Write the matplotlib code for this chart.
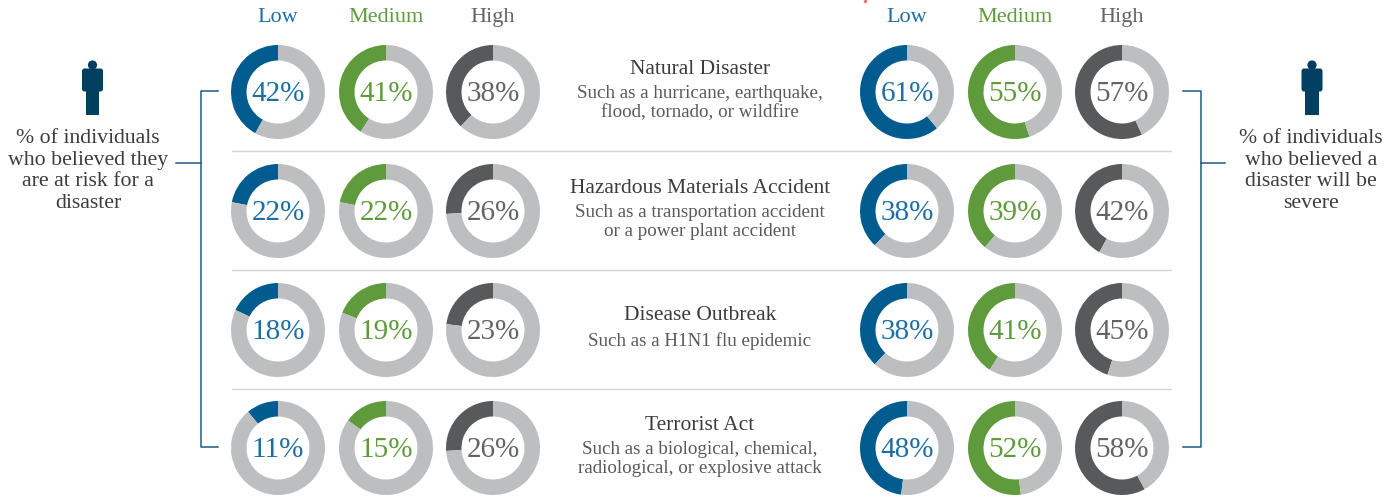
import matplotlib
matplotlib.use("Agg")
import matplotlib.pyplot as plt
from matplotlib.patches import Circle, FancyBboxPatch, Rectangle

# values, rows top to bottom
levels = ["Low", "Medium", "High"]
risk_low = [42, 22, 18, 11]
risk_medium = [41, 22, 19, 15]
risk_high = [38, 26, 23, 26]
severe_low = [61, 38, 38, 48]
severe_medium = [55, 39, 41, 52]
severe_high = [57, 42, 45, 58]

titles = ["Natural Disaster", "Hazardous Materials Accident", "Disease Outbreak", "Terrorist Act"]
details = ["Such as a hurricane, earthquake,\nflood, tornado, or wildfire",
           "Such as a transportation accident\nor a power plant accident",
           "Such as a H1N1 flu epidemic",
           "Such as a biological, chemical,\nradiological, or explosive attack"]
left_note = "% of individuals\nwho believed they\nare at risk for a\ndisaster"
right_note = "% of individuals\nwho believed a\ndisaster will be\nsevere"

colors = ["#005b8f", "#5f9b3c", "#58595b"]
text_colors = ["#1f6ea3", "#5f9b3c", "#636466"]
rest = "#bcbec0"
line = "#1f5a80"
navy = "#003f5f"
dark = "#3c3c3e"

W, H = 1398, 498
left_x = [278, 386, 493]
right_x = [907, 1015, 1122]
row_y = [92, 211, 330, 448]
R, r = 47, 31.5

plt.rcParams['font.family'] = ['Liberation Serif', 'DejaVu Serif']
fig = plt.figure(figsize=(W / 100, H / 100), dpi=100)
ax = fig.add_axes([0, 0, 1, 1])


def Y(py):
    return H - py


def donut(cx, cy, val, col, tcol):
    ax.pie([val, 100 - val], colors=[col, rest], center=(cx, Y(cy)), radius=R,
           startangle=90, counterclock=True, frame=True,
           wedgeprops=dict(width=R - r, linewidth=0))
    ax.text(cx, Y(cy) - 2, "%d%%" % val, color=tcol, fontsize=21,
            ha="center", va="center", fontweight="light")


def person(cx, top):
    ax.add_patch(Circle((cx, Y(top + 4.5)), 4.6, color=navy, lw=0))
    ax.add_patch(FancyBboxPatch((cx - 10.5, Y(top + 31)), 21, 23,
                                boxstyle="round,pad=0,rounding_size=2.5", color=navy, lw=0))
    ax.add_patch(Rectangle((cx - 6.8, Y(top + 54)), 13.6, 28, color=navy, lw=0))


risk = [risk_low, risk_medium, risk_high]
severe = [severe_low, severe_medium, severe_high]
for c in range(3):
    ax.text(left_x[c], Y(17), levels[c], color=text_colors[c], fontsize=16, ha="center", va="center")
    ax.text(right_x[c], Y(17), levels[c], color=text_colors[c], fontsize=16, ha="center", va="center")
    for i in range(4):
        donut(left_x[c], row_y[i], risk[c][i], colors[c], text_colors[c])
        donut(right_x[c], row_y[i], severe[c][i], colors[c], text_colors[c])

# separators between rows
for py in [151, 270, 389]:
    ax.plot([232, 1171], [Y(py), Y(py)], color="#d4d5d6", lw=1.0)

# row captions
title_y = [69, 188, 316, 426]
detail_y = [103, 222, 341, 459]
for i in range(4):
    ax.text(700, Y(title_y[i]), titles[i], color=dark, fontsize=15.5, ha="center", va="center")
    ax.text(700, Y(detail_y[i]), details[i], color="#58595b", fontsize=13.7, ha="center",
            va="center", linespacing=1.22)

# brackets
ax.plot([218, 200.5, 200.5, 218], [Y(91), Y(91), Y(447), Y(447)], color=line, lw=1.1)
ax.plot([176, 200.5], [Y(163), Y(163)], color=line, lw=1.1)
ax.plot([1183, 1200.5, 1200.5, 1183], [Y(91), Y(91), Y(447), Y(447)], color=line, lw=1.1)
ax.plot([1200.5, 1225], [Y(163), Y(163)], color=line, lw=1.1)

# side notes
person(92.5, 60.5)
person(1312, 60.5)
ax.text(88, Y(171), left_note, color=dark, fontsize=15.7, ha="center", va="center", linespacing=1.17)
ax.text(1311, Y(171), right_note, color=dark, fontsize=15.7, ha="center", va="center", linespacing=1.17)

# small red speck at the top edge of the scan
ax.plot([865], [Y(1)], "o", color="#e8756f", ms=2.5, mew=0)

ax.set_xlim(0, W)
ax.set_ylim(0, H)
ax.set_aspect("equal")
ax.axis("off")
fig.savefig("out.png", dpi=100)
